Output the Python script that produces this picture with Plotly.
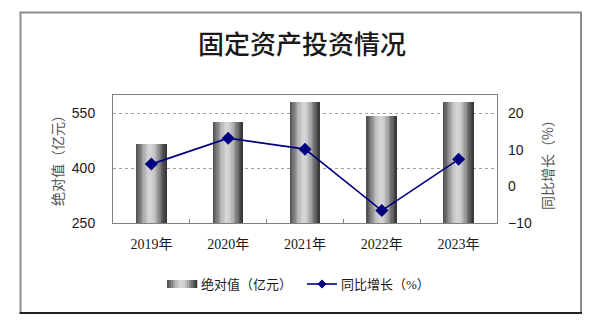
import plotly.graph_objects as go

# Data
years = ["2019年", "2020年", "2021年", "2022年", "2023年"]
absolute_value = [467, 527, 581, 542, 582]      # 绝对值（亿元）
yoy_growth = [6.1, 13.2, 10.2, -6.6, 7.4]       # 同比增长（%）
left_ticks = [250, 400, 550]
right_ticks = [-10, 0, 10, 20]
bar_name = "绝对值（亿元）"
line_name = "同比增长（%）"

W, H = 594, 326
L, R, T, B = 113, 97, 95, 103
PW, PH = W - L - R, H - T - B

def px_x(x):
    return (x - L) / PW

def px_y(y):
    return (H - B - y) / PH

fig = go.Figure()

# Cylinder-style bars: each bar is split into thin vertical strips with a
# grey profile that is dark at the edges and light slightly left of centre.
bar_w = 0.39
profile = [(0.0, 75), (0.12, 115), (0.3, 185), (0.45, 215), (0.58, 205),
           (0.72, 160), (0.86, 100), (1.0, 50)]

def grey_at(t):
    for (t0, g0), (t1, g1) in zip(profile, profile[1:]):
        if t0 <= t <= t1:
            return g0 + (g1 - g0) * (t - t0) / (t1 - t0)
    return profile[-1][1]

n_strips = 24
for k in range(n_strips):
    t = (k + 0.5) / n_strips
    g = int(round(grey_at(t)))
    fig.add_trace(go.Bar(
        x=years, y=absolute_value,
        width=bar_w / n_strips * 1.08,
        offset=-bar_w / 2 + k * bar_w / n_strips,
        marker=dict(color=f"rgb({g},{g},{g})", line=dict(width=0)),
        showlegend=False, hoverinfo="skip",
    ))

fig.add_trace(go.Scatter(
    x=years, y=yoy_growth, yaxis="y2", name=line_name,
    mode="lines+markers", showlegend=False,
    line=dict(color="#000080", width=1.6),
    marker=dict(symbol="diamond", size=10, color="#000080"),
))

axis_font = dict(family="Liberation Sans, Arial, sans-serif", size=14, color="#1a1a1a")

fig.update_layout(
    width=W, height=H,
    margin=dict(l=L, r=R, t=T, b=B),
    paper_bgcolor="white", plot_bgcolor="white",
    barmode="overlay", bargap=0,
    showlegend=False,
    title=dict(
        text="固定资产投资情况", x=302 / W, xanchor="center",
        y=1 - 45 / H, yanchor="middle",
        font=dict(family="Noto Sans CJK SC", size=26, color="#1a1a1a", weight=500),
    ),
    xaxis=dict(
        type="category", showline=True, linecolor="#808080", linewidth=1,
        mirror=True, ticks="inside", tickson="boundaries", ticklen=4,
        tickcolor="#808080",
        tickfont=dict(family="Liberation Serif, Noto Sans CJK SC", size=14, color="#1a1a1a"),
        ticklabelstandoff=8,
    ),
    yaxis=dict(
        range=[250, 600], tickvals=left_ticks, showline=True, linecolor="#808080",
        linewidth=1, mirror=True, ticks="", showgrid=True, gridcolor="#a0a0a0",
        griddash="dot", gridwidth=1, zeroline=False, tickfont=axis_font,
        ticklabelstandoff=14,
    ),
    yaxis2=dict(
        overlaying="y", side="right", range=[-10, 25], tickvals=right_ticks,
        showgrid=False, zeroline=False, showline=False, ticks="",
        tickfont=axis_font, ticklabelstandoff=10,
    ),
)

# Axis titles
fig.add_annotation(
    text=bar_name, textangle=-90, xref="paper", yref="paper",
    x=px_x(57), y=px_y(157), xanchor="center", yanchor="middle", showarrow=False,
    font=dict(family="Noto Sans CJK SC", size=14, color="#555555"),
)
fig.add_annotation(
    text=line_name, textangle=-90, xref="paper", yref="paper",
    x=px_x(547), y=px_y(162), xanchor="center", yanchor="middle", showarrow=False,
    font=dict(family="Noto Sans CJK SC", size=14, color="#555555"),
)

# Legend, laid out below the plot
legend_y = 284
legend_font = dict(family="Liberation Serif, Noto Sans CJK SC", size=13, color="#1a1a1a")
sw_x0, sw_x1 = 167, 197
n_sw = 15
for k in range(n_sw):
    t = (k + 0.5) / n_sw
    g = int(round(grey_at(t)))
    a = sw_x0 + (sw_x1 - sw_x0) * k / n_sw
    b = sw_x0 + (sw_x1 - sw_x0) * (k + 1) / n_sw
    fig.add_shape(type="rect", xref="paper", yref="paper",
                  x0=px_x(a), x1=px_x(b + 0.3), y0=px_y(legend_y - 4), y1=px_y(legend_y + 4),
                  fillcolor=f"rgb({g},{g},{g})", line=dict(width=0))
fig.add_annotation(text=bar_name, xref="paper", yref="paper", x=px_x(199), y=px_y(legend_y),
                   xanchor="left", yanchor="middle", showarrow=False, font=legend_font)

fig.add_shape(type="line", xref="paper", yref="paper",
              x0=px_x(307), x1=px_x(337), y0=px_y(legend_y), y1=px_y(legend_y),
              line=dict(color="#000080", width=1.6))
dx, dy = 4.5, 4.5
cx = 322
fig.add_shape(type="path", xref="paper", yref="paper",
              path=(f"M {px_x(cx)} {px_y(legend_y - dy)} L {px_x(cx + dx)} {px_y(legend_y)} "
                    f"L {px_x(cx)} {px_y(legend_y + dy)} L {px_x(cx - dx)} {px_y(legend_y)} Z"),
              fillcolor="#000080", line=dict(width=0))
fig.add_annotation(text=line_name, xref="paper", yref="paper", x=px_x(339), y=px_y(legend_y),
                   xanchor="left", yanchor="middle", showarrow=False, font=legend_font)

# Outer frame: grey on three sides, dark along the bottom
frame_l, frame_r, frame_t, frame_b = 20.5, 581, 12.5, 313
fig.add_shape(type="line", xref="paper", yref="paper",
              x0=px_x(frame_l), x1=px_x(frame_l), y0=px_y(frame_t), y1=px_y(frame_b),
              line=dict(color="#8c8c8c", width=2))
fig.add_shape(type="line", xref="paper", yref="paper",
              x0=px_x(frame_r), x1=px_x(frame_r), y0=px_y(frame_t), y1=px_y(frame_b),
              line=dict(color="#8c8c8c", width=2))
fig.add_shape(type="line", xref="paper", yref="paper",
              x0=px_x(frame_l - 1), x1=px_x(frame_r + 1), y0=px_y(frame_t), y1=px_y(frame_t),
              line=dict(color="#8c8c8c", width=2))
fig.add_shape(type="line", xref="paper", yref="paper",
              x0=px_x(frame_l - 1), x1=px_x(frame_r + 1), y0=px_y(frame_b), y1=px_y(frame_b),
              line=dict(color="#222222", width=2))

fig.write_html("out.html")
